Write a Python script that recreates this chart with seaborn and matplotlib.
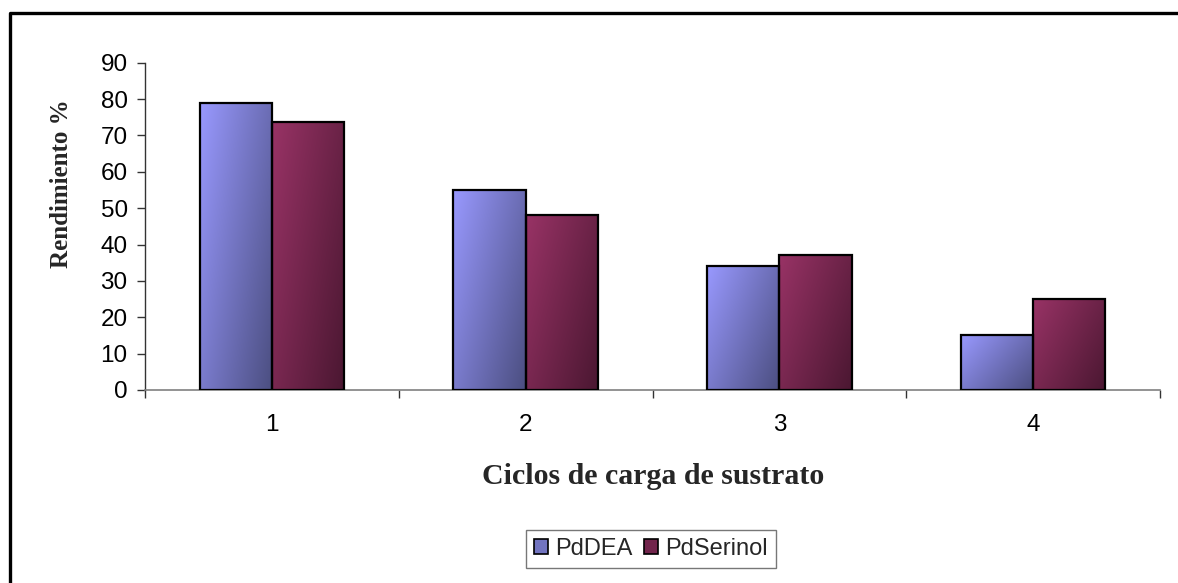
import matplotlib
matplotlib.use("Agg")
import matplotlib.pyplot as plt
import matplotlib.colors as mcolors
from matplotlib.lines import Line2D
from matplotlib.patches import Patch
from matplotlib.ticker import FixedLocator
import seaborn as sns
import pandas as pd
import numpy as np

# ─── Data ─────────────────────────────────────────────────────────────────────
ciclos = ["1", "2", "3", "4"]
pd_dea = [79.0, 55.0, 34.0, 15.2]
pd_serinol = [73.8, 48.2, 37.2, 25.1]
series = ["PdDEA", "PdSerinol"]
y_ticks = [0, 10, 20, 30, 40, 50, 60, 70, 80, 90]

# light (top-left) -> dark (bottom-right) gradient ends, Excel style
LIGHT = {"PdDEA": "#9999FF", "PdSerinol": "#993366"}
DARK = {"PdDEA": "#4B4E80", "PdSerinol": "#4A1731"}

df = pd.DataFrame({
    "ciclo": ciclos * 2,
    "rend": pd_dea + pd_serinol,
    "serie": [series[0]] * len(ciclos) + [series[1]] * len(ciclos),
})

sns.set_theme(style="white")
plt.rcParams["font.family"] = ["Liberation Sans", "DejaVu Sans"]

W, H = 1178, 583
fig = plt.figure(figsize=(W / 100, H / 100), dpi=100)
fig.patch.set_facecolor("white")


def px(x, y):
    """pixel coords (top-left origin) -> figure fraction"""
    return x / W, 1 - y / H


ax = fig.add_axes([145 / W, 1 - 390 / H, (1160 - 145) / W, (390 - 62.7) / H])

sns.barplot(data=df, x="ciclo", y="rend", hue="serie", order=ciclos,
            hue_order=series, palette=[LIGHT[s] for s in series],
            width=0.57, edgecolor="black", linewidth=1.6, legend=False,
            saturation=1, ax=ax)


def _gradient(light, dark, n=200):
    c0 = np.array(mcolors.to_rgb(light))
    c1 = np.array(mcolors.to_rgb(dark))
    u = np.linspace(0, 1, n)[None, :]
    v = np.linspace(0, 1, n)[:, None]
    t = np.clip(0.6 * u + 0.4 * v, 0, 1)[..., None]
    return c0 * (1 - t) + c1 * t


for name, cont in zip(series, ax.containers):
    img = _gradient(LIGHT[name], DARK[name])
    for bar in cont:
        x0, y0 = bar.get_x(), bar.get_y()
        x1, y1 = x0 + bar.get_width(), y0 + bar.get_height()
        ax.imshow(img, extent=(x0, x1, y0, y1), aspect="auto",
                  origin="upper", zorder=2, interpolation="bilinear")
        bar.set_facecolor("none")
        bar.set_zorder(3)

ax.set_aspect("auto")
ax.set_xlim(-0.5, 3.5)
ax.set_ylim(0, 90)
ax.set_yticks(y_ticks)
ax.set_xticks(range(len(ciclos)))
ax.set_xticklabels(ciclos)
ax.xaxis.set_minor_locator(FixedLocator(np.arange(-0.5, 4.0, 1.0)))

ax.set_xlabel("")
ax.set_ylabel("")
for side in ["top", "right"]:
    ax.spines[side].set_visible(False)
ax.spines["left"].set_color("#333333")
ax.spines["left"].set_linewidth(1.0)
ax.spines["bottom"].set_color("#808080")
ax.spines["bottom"].set_linewidth(1.2)

ax.tick_params(axis="y", which="major", left=True, length=5.5, width=1.0,
               color="#333333", pad=7, labelsize=17.5, labelcolor="black")
ax.tick_params(axis="x", which="major", bottom=False, length=0, pad=17,
               labelsize=17.5, labelcolor="black")
ax.tick_params(axis="x", which="minor", bottom=True, length=6, width=1.0,
               color="#333333")
ax.grid(False)

# axis titles (Times-like, bold)
serif = ["Liberation Serif", "DejaVu Serif"]
fig.text(*px(61, 184), "Rendimiento %", rotation=90, ha="center",
         va="center", fontsize=18, fontweight="bold", family=serif)
fig.text(*px(653, 477), "Ciclos de carga de sustrato", ha="center",
         va="center", fontsize=21.5, fontweight="bold", family=serif)

# legend
handles = [Patch(facecolor=mcolors.to_hex(
    (np.array(mcolors.to_rgb(LIGHT[s])) + np.array(mcolors.to_rgb(DARK[s]))) / 2),
    edgecolor="black", linewidth=1.2, label=s) for s in series]
leg = fig.legend(handles=handles, loc="center", bbox_to_anchor=px(651, 549),
                 ncol=2, frameon=True, fancybox=False, fontsize=17,
                 handlelength=0.6, handleheight=0.6, handletextpad=0.3,
                 columnspacing=0.5, borderpad=0.35)
leg.get_frame().set_edgecolor("#555555")
leg.get_frame().set_linewidth(1.0)

# outer chart border (only top/left visible in the crop)
bx0, by0 = px(10, 583)
bx1, by1 = px(10, 13)
bx2, by2 = px(1178, 13)
fig.add_artist(Line2D([bx0, bx1, bx2], [by0, by1, by2], color="black",
                      linewidth=2.4, transform=fig.transFigure))

fig.savefig("out.png", dpi=100)
